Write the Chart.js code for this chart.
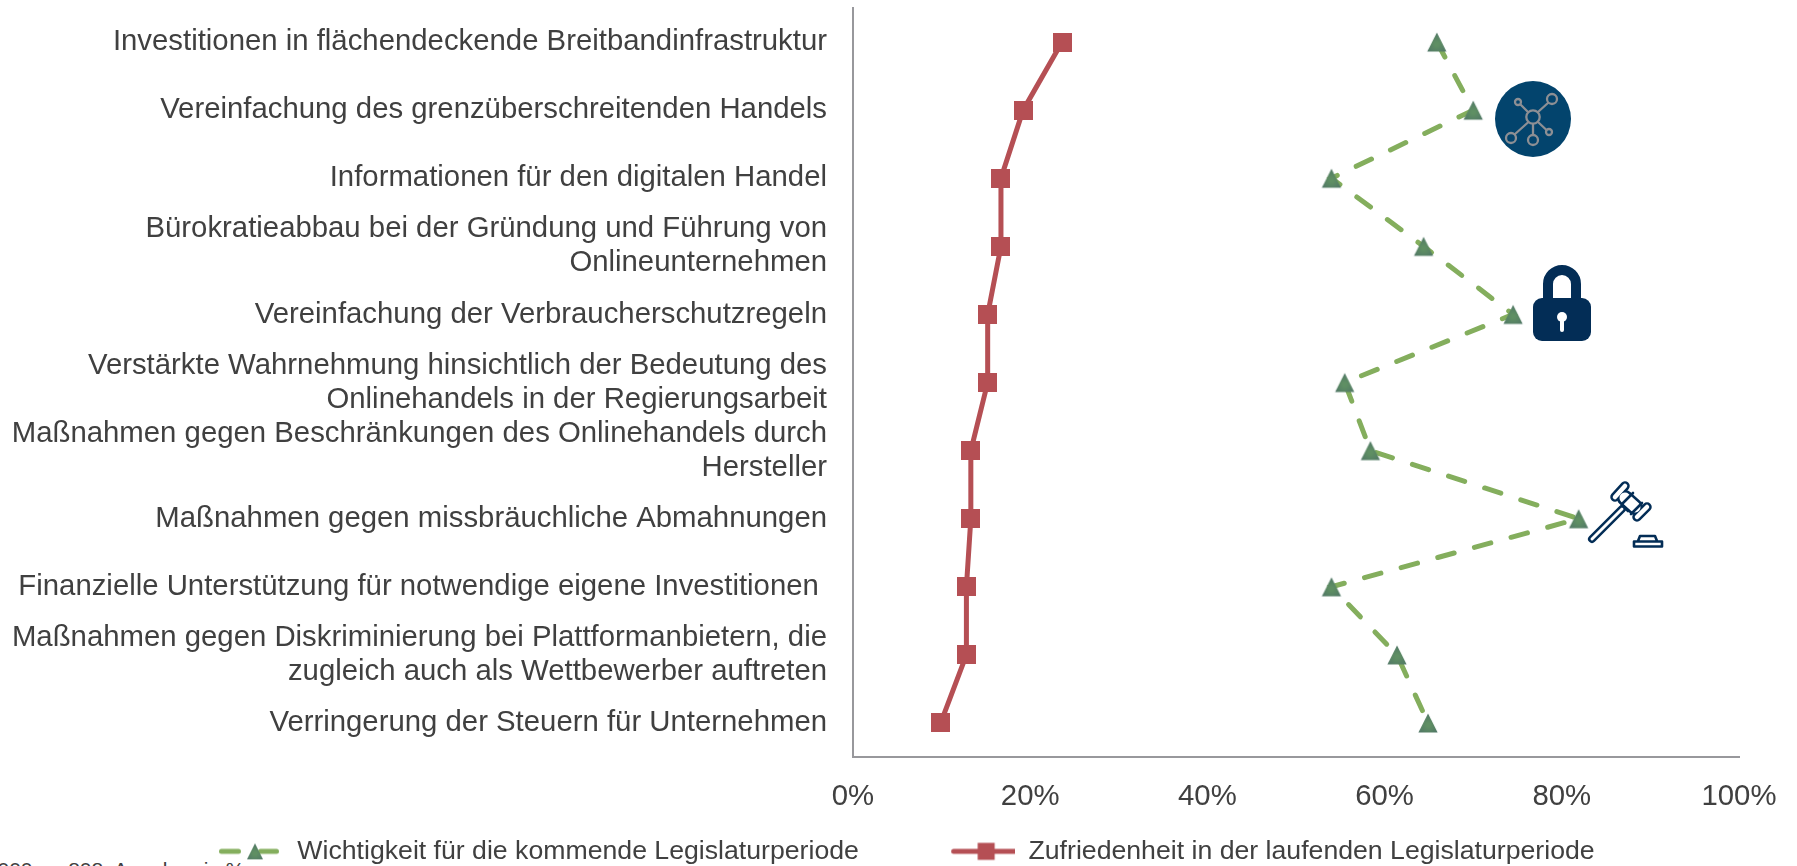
<!DOCTYPE html>
<html lang="de">
<head>
<meta charset="utf-8">
<title>Wichtigkeit und Zufriedenheit</title>
<script src="https://cdn.jsdelivr.net/npm/chart.js@4"></script>
<style>
html,body{margin:0;padding:0;background:#fff;width:1797px;height:866px;overflow:hidden}
#wrap{position:relative;width:1797px;height:866px;overflow:hidden}
#c{position:absolute;left:0;top:0}
.icon{position:absolute;display:block}
#note{position:absolute;left:-20px;top:858px;font:21px/24px "Liberation Sans",Arial,sans-serif;color:#404040;white-space:nowrap}
</style>
</head>
<body>
<div id="wrap">
<div id="note">2.000, n=808; Angaben in %</div>
<canvas id="c" width="1797" height="866"></canvas>
<svg class="icon" style="left:1495px;top:81px" width="76" height="76" viewBox="0 0 76 76">
  <circle cx="38" cy="38" r="38" fill="#03446d"/>
  <g fill="none" stroke="#8d8f94" stroke-width="2.3">
    <circle cx="38" cy="36" r="6.7"/><circle cx="57" cy="18" r="5"/><circle cx="23" cy="21" r="3"/>
    <circle cx="16" cy="57" r="5"/><circle cx="38" cy="59" r="5"/><circle cx="54" cy="51" r="3"/>
    <path d="M43 31 53.500 21.500M33 31 25.500 23.500M33.500 41 19.500 53.500M38 43V54M43 41 51.500 49"/>
  </g>
</svg>
<svg class="icon" style="left:1533px;top:265px" width="58" height="77" viewBox="0 0 58 77">
  <path d="M15 36V19a14 14 0 0 1 28 0V36" fill="none" stroke="#032d56" stroke-width="10"/>
  <rect x="0" y="33" width="58" height="43" rx="9" fill="#032d56"/>
  <circle cx="29" cy="52" r="5" fill="#fff"/><rect x="27" y="53" width="4" height="14" rx="2" fill="#fff"/>
</svg>
<svg class="icon" style="left:1550px;top:470px" width="130" height="90" viewBox="0 0 130 90">
  <g fill="none" stroke-linecap="round" stroke-linejoin="round">
    <g stroke="#032d56">
      <path stroke-width="8" d="M42 69 72 39"/>
      <path stroke-width="9.500" d="M65 27 75 16M87 47 97 37"/>
      <path stroke-width="16" d="M75 28 85 37"/>
    </g>
    <g stroke="#fff">
      <path stroke-width="3" d="M42 69 72 39"/>
      <path stroke-width="4.500" d="M65 27 75 16M87 47 97 37"/>
      <path stroke-width="11" d="M75 28 85 37"/>
    </g>
    <path stroke="#032d56" stroke-width="2.600" d="M73 36 78 41M83 23 72 34M92 33 81 44"/>
    <path stroke="#032d56" stroke-width="2.600" fill="#fff" d="M88 71 90 66H105L107 71M84 71.500H112V76.500H84Z"/>
  </g>
</svg>
</div>
<script>
const categories = [
  "Investitionen in flächendeckende Breitbandinfrastruktur",
  "Vereinfachung des grenzüberschreitenden Handels",
  "Informationen für den digitalen Handel",
  ["Bürokratieabbau bei der Gründung und Führung von", "Onlineunternehmen"],
  "Vereinfachung der Verbraucherschutzregeln",
  ["Verstärkte Wahrnehmung hinsichtlich der Bedeutung des", "Onlinehandels in der Regierungsarbeit"],
  ["Maßnahmen gegen Beschränkungen des Onlinehandels durch", "Hersteller"],
  "Maßnahmen gegen missbräuchliche Abmahnungen",
  "Finanzielle Unterstützung für notwendige eigene Investitionen ",
  ["Maßnahmen gegen Diskriminierung bei Plattformanbietern, die", "zugleich auch als Wettbewerber auftreten"],
  "Verringerung der Steuern für Unternehmen"
];
const importance = [65.9, 70, 54, 64.4, 74.5, 55.5, 58.4, 81.9, 54, 61.4, 64.9];
const satisfaction = [23.6, 19.2, 16.7, 16.7, 15.2, 15.2, 13.3, 13.3, 12.8, 12.8, 9.9];
const importanceLabel = "Wichtigkeit für die kommende Legislaturperiode";
const satisfactionLabel = "Zufriedenheit in der laufenden Legislaturperiode";
const xTicks = [0, 20, 40, 60, 80, 100];

const GREEN = "#84ae5d", RED = "#b54f54", TEXT = "#404040", AXIS = "#98989c";
const FONT = '"Liberation Sans", Arial, sans-serif';

function triangleMarker(ctx, cx, cy, half) {
  const g = ctx.createRadialGradient(cx, cy + 2, 2, cx, cy + 2, half * 1.25);
  g.addColorStop(0, "#5f8f63");
  g.addColorStop(1, "#4f7566");
  ctx.fillStyle = g;
  ctx.beginPath();
  ctx.moveTo(cx, cy - half);
  ctx.lineTo(cx + half, cy + half);
  ctx.lineTo(cx - half, cy + half);
  ctx.closePath();
  ctx.fill();
}
function makeCanvas(w, h) { const c = document.createElement("canvas"); c.width = w; c.height = h; return c; }

const triPoint = makeCanvas(22, 22);
triangleMarker(triPoint.getContext("2d"), 11, 11, 9.6);
const rectPoint = makeCanvas(19, 19);
{ const x = rectPoint.getContext("2d"); x.fillStyle = RED; x.fillRect(0, 0, 19, 19); }

const W = 151;
const greenSwatch = makeCanvas(W, 24);
{ const x = greenSwatch.getContext("2d"); x.strokeStyle = GREEN; x.lineWidth = 5; x.lineCap = "round";
  x.beginPath(); x.moveTo(W/2 + 13, 12); x.lineTo(W/2 + 30, 12); x.moveTo(W/2 + 52, 12); x.lineTo(W/2 + 68, 12); x.stroke();
  triangleMarker(x, W/2 + 46.5, 12, 8); }
const redSwatch = makeCanvas(W, 24);
{ const x = redSwatch.getContext("2d"); x.strokeStyle = RED; x.lineWidth = 5; x.lineCap = "round";
  x.beginPath(); x.moveTo(W/2 + 14, 12); x.lineTo(W/2 + 80, 12); x.stroke();
  x.fillStyle = RED; x.fillRect(W/2 + 38, 3.5, 17, 17); }

const LEGEND_PADDING = 5.3;
const legendPlace = {
  id: "legendPlace",
  afterLayout(chart) { chart.legend.left = 133 - LEGEND_PADDING; chart.legend.top = 838 - LEGEND_PADDING; }
};

new Chart(document.getElementById("c"), {
  type: "line",
  data: {
    labels: categories,
    datasets: [
      { label: importanceLabel, data: importance, borderColor: GREEN, backgroundColor: GREEN,
        borderWidth: 5, borderDash: [17, 21], borderCapStyle: "round", tension: 0, fill: false,
        pointStyle: triPoint, pointRadius: 11, pointHoverRadius: 11, order: 1 },
      { label: satisfactionLabel, data: satisfaction, borderColor: RED, backgroundColor: RED,
        borderWidth: 5, tension: 0, fill: false, pointStyle: rectPoint, pointRadius: 10, pointHoverRadius: 10, order: 2 }
    ]
  },
  plugins: [legendPlace],
  options: {
    indexAxis: "y",
    responsive: false,
    animation: false,
    layout: { autoPadding: false, padding: { left: 0, right: 58, top: 8, bottom: 0 } },
    scales: {
      x: {
        type: "linear", min: 0, max: 100, position: "bottom",
        afterFit(s) { s.height = 67; s.paddingLeft = 0; s.paddingRight = 0; },
        afterBuildTicks(s) { s.ticks = xTicks.map(v => ({ value: v })); },
        grid: { display: false, drawTicks: false },
        border: { display: true, color: AXIS, width: 2 },
        ticks: { color: TEXT, padding: 22, maxRotation: 0, font: { family: FONT, size: 29.33 },
                 callback: v => v + "%" }
      },
      y: {
        type: "category", offset: true,
        afterFit(s) { s.width = 853; s.paddingTop = 0; s.paddingBottom = 0; },
        grid: { display: false, drawTicks: false },
        border: { display: true, color: AXIS, width: 2 },
        ticks: { color: TEXT, padding: 26, autoSkip: false, font: { family: FONT, size: 29.33, lineHeight: 1.16 } }
      }
    },
    plugins: {
      tooltip: { enabled: false },
      title: { display: false },
      legend: {
        position: "bottom", align: "start",
        labels: {
          usePointStyle: true, pointStyleWidth: W, boxHeight: 24, padding: LEGEND_PADDING, color: TEXT,
          font: { family: FONT, size: 26.67 },
          generateLabels(chart) {
            return chart.data.datasets.map((d, i) => ({
              text: d.label, datasetIndex: i, fontColor: TEXT, lineWidth: 0, hidden: false,
              pointStyle: i === 0 ? greenSwatch : redSwatch
            }));
          }
        }
      }
    }
  }
});
</script>
</body>
</html>
